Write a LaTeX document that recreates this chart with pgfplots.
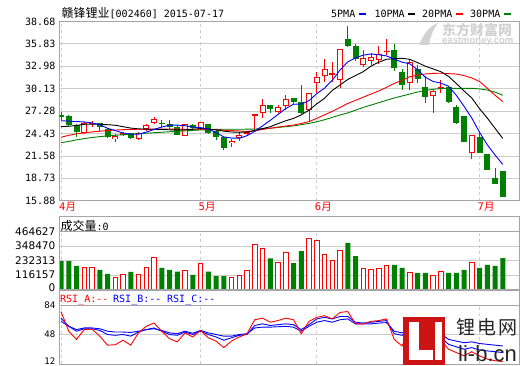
\documentclass[border=0pt]{standalone}
\usepackage{fontspec}
\usepackage{pgfplots}
\pgfplotsset{compat=1.18}
\usepackage{pgfplotstable}
\setmainfont{DejaVu Sans}
\newfontfamily\mono{DejaVu Sans Mono}
\newfontfamily\cjk{Noto Sans CJK SC}
\newfontfamily\lsans{Liberation Sans}
\definecolor{cred}{RGB}{255,0,0}
\definecolor{cgreen}{RGB}{0,128,0}
\definecolor{cblue}{RGB}{0,0,255}
\definecolor{gridc}{RGB}{205,205,205}
\definecolor{borderc}{RGB}{165,165,165}
\definecolor{wm}{RGB}{210,210,210}
\definecolor{logored}{RGB}{205,20,20}

% green (falling) candles: index open high low close volume
\pgfplotstableread{
i o h l c v
0 26.70 27.20 26.15 26.65 229000
1 26.70 26.80 25.40 25.50 229000
2 25.50 25.60 24.00 24.65 189000
5 25.73 25.75 24.80 25.30 157000
6 24.97 25.10 23.90 23.95 125000
9 24.46 24.50 23.70 23.83 141000
13 25.75 26.10 25.30 25.70 173000
14 25.66 26.10 25.00 25.30 157000
15 25.30 25.50 24.20 24.24 143000
17 25.50 25.70 25.00 25.10 117000
19 25.60 25.70 24.40 24.50 143000
20 24.75 25.00 23.60 24.00 108000
21 23.95 24.00 22.30 22.55 108000
27 28.06 28.10 27.00 27.55 251000
30 28.90 29.00 28.20 28.48 213000
31 28.40 30.60 26.90 27.00 309000
37 36.40 38.10 35.40 35.50 374000
38 35.60 35.80 33.60 33.85 269000
43 35.05 35.80 32.35 32.75 197000
44 32.25 32.60 30.00 30.60 173000
46 32.60 33.20 30.90 31.40 133000
47 30.30 31.70 28.30 29.05 133000
50 30.40 30.50 28.30 28.50 133000
51 27.85 28.00 25.70 25.80 133000
52 26.65 26.70 23.30 23.40 157000
54 24.00 24.45 21.90 22.00 173000
55 21.80 21.85 19.75 19.80 197000
56 18.75 20.10 17.95 18.00 189000
57 19.65 19.70 16.30 16.40 253000
}\greenc

% red (rising) candles
\pgfplotstableread{
i o h l c v
3 24.46 25.90 24.40 25.80 178000
4 25.65 26.00 25.30 25.80 173000
7 23.70 24.40 23.40 24.10 98000
8 24.20 24.60 24.10 24.45 122000
10 23.70 24.60 23.55 24.54 122000
11 25.00 25.70 24.80 25.51 178000
12 25.73 26.50 25.70 26.28 259000
16 24.10 25.65 24.05 25.60 154000
18 25.00 25.95 24.90 25.85 210000
22 23.18 23.70 22.75 23.48 100000
23 23.85 24.50 23.50 24.25 114000
24 24.45 24.75 24.20 24.55 154000
25 26.70 26.87 24.66 26.87 358000
26 27.00 28.78 26.37 28.06 331000
28 27.20 28.06 27.00 27.76 219000
29 27.97 29.30 27.45 28.78 299000
32 27.42 29.60 25.93 29.55 411000
33 30.82 32.30 29.60 31.60 395000
34 31.75 33.87 31.02 32.60 283000
35 31.95 33.57 31.02 32.05 235000
36 31.24 35.20 30.18 35.14 315000
39 33.20 35.10 32.95 34.05 170000
40 33.60 34.70 33.20 34.20 162000
41 33.80 35.50 33.30 34.60 170000
42 34.80 36.40 34.40 34.95 194000
45 30.90 33.90 29.95 33.55 138000
48 29.20 30.00 27.05 29.90 114000
49 30.10 31.20 29.60 30.30 146000
53 21.90 24.30 21.15 24.25 219000
}\redc

% moving averages
\pgfplotstableread{
i m5 m10 m20 m30
0 26.06 25.30 23.95 23.26
1 26.00 25.35 24.20 23.42
2 25.95 25.45 24.38 23.62
3 25.90 25.60 24.52 23.78
4 25.78 25.62 24.63 23.92
5 25.55 25.60 24.72 24.03
6 25.10 25.55 24.80 24.13
7 24.80 25.48 24.87 24.21
8 24.50 25.30 24.92 24.27
9 24.33 25.12 24.95 24.33
10 24.35 25.02 24.97 24.40
11 24.60 24.98 24.98 24.47
12 24.95 24.97 25.00 24.53
13 25.25 24.95 25.00 24.59
14 25.50 24.90 25.00 24.65
15 25.50 24.88 24.98 24.71
16 25.42 24.90 24.97 24.77
17 25.25 24.97 24.97 24.83
18 25.18 25.05 24.98 24.88
19 25.00 25.00 24.95 24.92
20 24.55 24.90 24.90 24.95
21 24.00 24.72 24.85 24.97
22 23.85 24.62 24.80 24.97
23 23.82 24.58 24.75 24.97
24 24.15 24.62 24.70 24.98
25 24.70 24.82 24.75 25.00
26 25.40 25.05 24.95 25.05
27 26.10 25.30 25.10 25.10
28 26.85 25.68 25.25 25.20
29 27.60 26.05 25.38 25.30
30 28.15 26.35 25.50 25.40
31 28.18 26.80 25.70 25.55
32 28.60 27.40 25.95 25.72
33 29.50 28.20 26.35 25.92
34 30.20 28.90 26.80 26.18
35 31.20 29.90 27.25 26.48
36 32.50 30.60 27.75 26.78
37 33.55 31.30 28.25 27.05
38 34.05 31.80 28.65 27.40
39 34.40 32.30 29.05 27.75
40 34.55 33.00 29.45 28.05
41 34.45 33.50 29.85 28.35
42 34.30 33.87 30.30 28.65
43 33.90 33.95 30.80 28.95
44 33.50 34.00 31.20 29.20
45 33.30 33.87 31.65 29.45
46 32.55 33.45 31.85 29.70
47 31.60 33.00 32.00 29.90
48 31.05 32.65 32.08 30.05
49 30.85 32.30 32.10 30.15
50 30.45 31.70 32.05 30.18
51 29.30 30.80 32.00 30.18
52 27.90 29.85 31.80 30.18
53 26.40 28.95 31.50 30.18
54 24.60 27.60 31.05 30.10
55 23.00 26.40 30.20 29.97
56 21.70 25.10 29.30 29.70
57 20.50 23.80 28.50 29.30
}\ma

% RSI
\pgfplotstableread{
i a b c
0 76 68 64
1 52 58 58
2 42 52 54
3 54 55 56
4 54.5 55 56
5 46 53 55
6 35 48 52
7 35.5 47 51
8 41 48 51
9 35 46 50.5
10 50 51 52
11 58 54 54
12 62 56 55
13 52 52 53
14 43 48 50
15 39 47 49
16 50 51 52
17 45 48 49.5
18 53 52 53
19 44 48 50
20 40 45 48
21 32 41 46
22 40 44 46
23 45 47 48
24 49 48 49
25 66 59 56
26 68 61 57
27 63 59 57
28 65 60 57.5
29 68 61 58
30 66 60 57
31 49 54 52
32 64 60 58
33 69 67 63
34 71 69 65
35 67 67 63
36 75 70 66
37 76 70 67
38 61 63 61
39 61 62 60.8
40 64 63 61
41 65 64 62
42 67 65 62.5
43 42 49 52
44 34 47 50
45 54 53 54
46 46 48 51
47 36 42 47
48 45 45 48
49 42 45 49
50 30 36 42
51 26 33 40
52 22 30 38
53 27 32 39
54 22 29 37
55 18 28 36
56 16 27 35
57 15 26 34
}\rsi

\pgfplotsset{
  panel/.style={
    scale only axis, anchor=south west,
    xmin=-0.194, xmax=59.097,
    axis line style={draw=borderc, line width=0.8pt},
    tick style={draw=none}, major tick length=0pt,
    xtick={0,18,33,54}, xmajorgrids,
    x grid style={draw=gridc, dash pattern=on 3pt off 3pt, line width=0.8pt},
    ymajorgrids, y grid style={draw=gridc, line width=0.8pt},
    yticklabel style={anchor=east, inner sep=0pt, xshift=-4pt},
    scaled y ticks=false,
  },
  candle/.style={draw=none, mark=none, error bars/.cd, y dir=both, y explicit,
    error mark=none, error bar style={#1}},
}

\begin{document}
\begin{tikzpicture}
\useasboundingbox (0pt,0pt) rectangle (520pt,365pt);
\fill[white] (0pt,0pt) rectangle (520pt,365pt);

% ---------------- main price panel ----------------
\begin{axis}[panel, at={(59.5pt,164.3pt)}, width=459.5pt, height=179.2pt,
  ymin=15.88, ymax=38.68,
  ytick={15.88,18.73,21.58,24.43,27.28,30.13,32.98,35.83,38.68},
  yticklabels={15.88,18.73,21.58,24.43,27.28,30.13,32.98,35.83,38.68},
  yticklabel style={font=\mono\fontsize{10}{10}\selectfont},
  xticklabels={{{\mono 4}{\cjk 月}},{{\mono 5}{\cjk 月}},{{\mono 6}{\cjk 月}},{{\mono 7}{\cjk 月}}},
  xticklabel style={anchor=north west, inner sep=0pt, xshift=-2pt, yshift=-1.5pt,
    text=cred, font=\fontsize{10.5}{10.5}\selectfont},
]
% green candles
\addplot[candle={draw=cgreen, line width=1pt}] table[x=i,
  y expr={(\thisrow{h}+\thisrow{l})/2}, y error expr={(\thisrow{h}-\thisrow{l})/2}] {\greenc};
\addplot[candle={draw=cgreen, line width=6pt}] table[x=i,
  y expr={(\thisrow{o}+\thisrow{c})/2}, y error expr={max(abs(\thisrow{c}-\thisrow{o})/2,0.064)}] {\greenc};
% red candles
\addplot[candle={draw=cred, line width=1pt}] table[x=i,
  y expr={(\thisrow{h}+\thisrow{l})/2}, y error expr={(\thisrow{h}-\thisrow{l})/2}] {\redc};
\addplot[candle={draw=cred, line width=6pt}] table[x=i,
  y expr={(\thisrow{o}+\thisrow{c})/2}, y error expr={max(abs(\thisrow{c}-\thisrow{o})/2,0.064)}] {\redc};
\addplot[candle={draw=white, line width=4pt}] table[x=i,
  y expr={(\thisrow{o}+\thisrow{c})/2}, y error expr={max(abs(\thisrow{c}-\thisrow{o})/2-0.127,0)}] {\redc};
% moving averages
\addplot[cgreen, line width=0.9pt, mark=none] table[x=i, y=m30] {\ma};
\addplot[cred, line width=0.9pt, mark=none] table[x=i, y=m20] {\ma};
\addplot[black, line width=0.9pt, mark=none] table[x=i, y=m10] {\ma};
\addplot[cblue, line width=0.9pt, mark=none] table[x=i, y=m5] {\ma};
\end{axis}

% ---------------- volume panel ----------------
\begin{axis}[panel, at={(59.5pt,75.5pt)}, width=459.5pt, height=57.8pt,
  ymin=0, ymax=464627,
  ytick={0,116157,232313,348470,464627},
  yticklabels={\raisebox{3pt}{0},116157,232313,348470,464627},
  yticklabel style={font=\fontsize{10.5}{10.5}\selectfont},
  xticklabels={},
]
\addplot[ybar, bar width=5pt, bar shift=0pt, fill=cgreen, draw=none] table[x=i, y=v] {\greenc};
\addplot[ybar, bar width=4.5pt, bar shift=0pt, fill=white, draw=cred, line width=1pt] table[x=i, y=v] {\redc};
\end{axis}

% ---------------- RSI panel ----------------
\begin{axis}[panel, at={(59.5pt,1pt)}, width=459.5pt, height=59pt,
  ymin=12, ymax=84,
  ytick={12,48,84}, yticklabels={\raisebox{6pt}{12},48,84},
  yticklabel style={font=\mono\fontsize{9}{9}\selectfont},
  xticklabels={},
]
\addplot[cblue, line width=0.9pt, mark=none] table[x=i, y=c] {\rsi};
\addplot[cblue, line width=0.9pt, mark=none] table[x=i, y=b] {\rsi};
\addplot[cred, line width=0.9pt, mark=none] table[x=i, y=a] {\rsi};
\end{axis}

\begin{scope}[x=1pt, y=1pt]
% panel frames
\draw[borderc, line width=0.8pt] (59.5,75.5) rectangle (519,149);
\draw[borderc, line width=0.8pt] (59.5,1) rectangle (519,75);

% title
\node[anchor=west, inner sep=0pt] at (61.5,351.7)
  {{\cjk\fontsize{12}{12}\selectfont 赣锋锂业}{\mono\fontsize{10}{10}\selectfont [002460] 2015-07-17}};
% legend
\begin{scope}[every node/.style={anchor=west, inner sep=0pt, font=\mono\fontsize{10}{10}\selectfont}]
\node at (331,350.7) {5PMA};
\draw[cblue, line width=2pt] (359,350.7) -- (365.5,350.7);
\node at (374.3,350.7) {10PMA};
\draw[black, line width=2pt] (408,350.7) -- (414.5,350.7);
\node at (422,350.7) {20PMA};
\draw[cred, line width=2pt] (456,350.7) -- (462.5,350.7);
\node at (470,350.7) {30PMA};
\draw[cgreen, line width=2pt] (504,350.7) -- (510.5,350.7);
\end{scope}

% watermark eastmoney
\fill[wm] (419,320) .. controls (424,332) and (430,339) .. (438,342)
  .. controls (433,335) and (430,328) .. (429,320) -- cycle;
\node[anchor=west, inner sep=0pt, text=wm, font=\cjk\bfseries\fontsize{14}{14}\selectfont] at (442,335) {东方财富网};
\node[anchor=west, inner sep=0pt, text=wm, font=\lsans\bfseries\fontsize{9.5}{9.5}\selectfont] at (442,323.5) {eastmoney.com};

% volume label
\node[anchor=west, inner sep=0pt] at (60.5,139)
  {{\cjk\fontsize{12}{12}\selectfont 成交量}{\mono\fontsize{10}{10}\selectfont :0}};
% RSI labels
\begin{scope}[every node/.style={anchor=west, inner sep=0pt, font=\mono\fontsize{10}{10}\selectfont}]
\node[text=cred] at (60,65) {RSI\_A:--};
\node[text=cblue] at (113,65) {RSI\_B:--};
\node[text=cblue] at (167,65) {RSI\_C:--};
\end{scope}

% li-b.cn logo
\fill[logored] (403.3,0) rectangle (444.5,47.7);
\fill[white] (409,5) rectangle (418.5,43);
\fill[white] (409,5) rectangle (433,15);
\fill[white] (435,5) rectangle (441.5,43);
\node[anchor=west, inner sep=0pt, font=\cjk\fontsize{19}{19}\selectfont, text=black!85] at (456,37.5)
  {锂\hspace{2pt}电\hspace{2pt}网};
\node[anchor=west, inner sep=0pt, font=\lsans\fontsize{22}{22}\selectfont, text=black!85] at (458,11)
  {li-b.cn};
\end{scope}
\end{tikzpicture}
\end{document}
